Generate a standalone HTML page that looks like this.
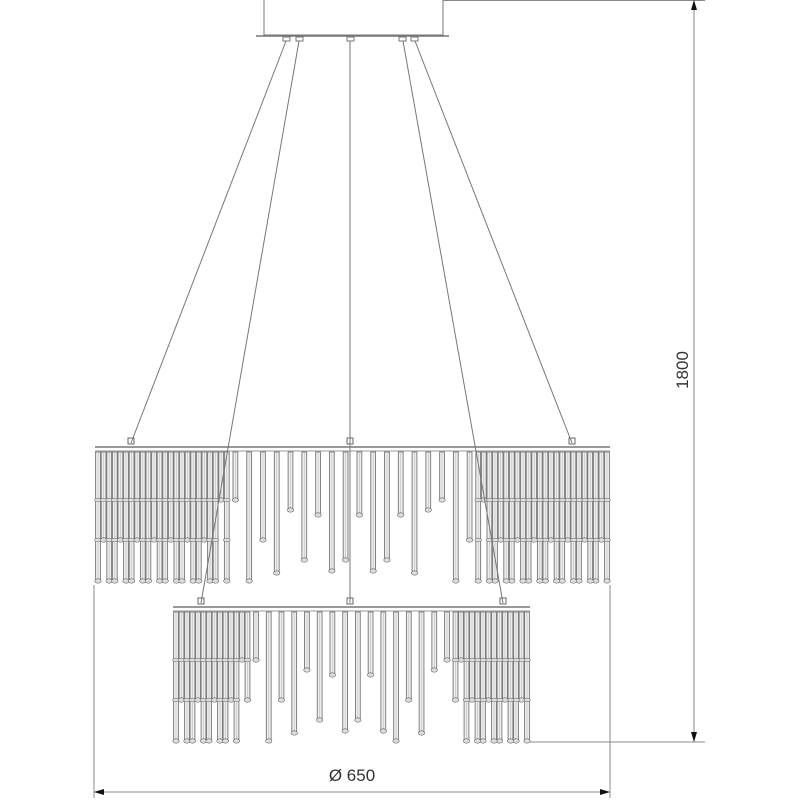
<!DOCTYPE html>
<html><head><meta charset="utf-8"><style>
html,body{margin:0;padding:0;background:#fff;}
svg{display:block;}
text{font-family:"Liberation Sans",sans-serif;fill:#333;}
</style></head><body>
<svg id="s" width="800" height="800" viewBox="0 0 800 800" xmlns="http://www.w3.org/2000/svg">
<defs>
<marker id="ah" markerWidth="10" markerHeight="6" refX="10" refY="3" orient="auto" markerUnits="userSpaceOnUse"><path d="M0,0 L10,3 L0,6 z" fill="#111"/></marker>
</defs>
<rect x="264" y="-1" width="179" height="36" fill="#fff" stroke="#777" stroke-width="1"/>
<line x1="256" y1="36" x2="449" y2="36" stroke="#777" stroke-width="1.5"/>
<g fill="#fff" stroke="#777" stroke-width="1">
<rect x="283" y="37" width="7" height="4"/><rect x="296" y="37" width="7" height="4"/><rect x="347" y="37" width="7" height="4"/><rect x="399" y="37" width="7" height="4"/><rect x="411" y="37" width="7" height="4"/>
</g>
<g id="rods"></g>
<g stroke="#777" stroke-width="1">
<line x1="286" y1="41" x2="131" y2="443"/>
<line x1="299" y1="41" x2="201" y2="603"/>
<line x1="350" y1="41" x2="350" y2="603"/>
<line x1="403" y1="41" x2="503" y2="603"/>
<line x1="415" y1="41" x2="572" y2="443"/>
</g>
<g stroke="#888" stroke-width="1">
<line x1="443" y1="0.5" x2="705" y2="0.5"/>
<line x1="530" y1="742" x2="705" y2="742"/>
<line x1="94" y1="585" x2="94" y2="798"/>
<line x1="610" y1="585" x2="610" y2="798"/>
</g>
<line x1="694" y1="12" x2="694" y2="0" stroke="#888" marker-end="url(#ah)"/>
<line x1="694" y1="12" x2="694" y2="742" stroke="#888" marker-end="url(#ah)"/>
<line x1="300" y1="792" x2="94" y2="792" stroke="#888" marker-end="url(#ah)"/>
<line x1="300" y1="792" x2="610" y2="792" stroke="#888" marker-end="url(#ah)"/>
<text x="688" y="370" font-size="17" text-anchor="middle" transform="rotate(-90 688 370)">1800</text>
<text x="352" y="781" font-size="17" text-anchor="middle">Ø 650</text>
</svg>
<script>
(function(){
var g=document.getElementById('rods'),ns='http://www.w3.org/2000/svg';
function el(t,a){var e=document.createElementNS(ns,t);for(var k in a)e.setAttribute(k,a[k]);g.appendChild(e);return e;}
var B;
function rod(x,y0,y1){
 el('rect',{x:x-2.4,y:y0,width:4.8,height:y1-y0,fill:'#eee',stroke:'#777','stroke-width':0.9});
 el('line',{x1:x,y1:y0,x2:x,y2:y1,stroke:'#bbb','stroke-width':0.6});
 B.forEach(function(b){ if(b<y1-4) el('ellipse',{cx:x,cy:b,rx:3.4,ry:1.8,fill:'#ddd',stroke:'#777','stroke-width':0.6});});
 el('ellipse',{cx:x,cy:y1,rx:3.2,ry:2.2,fill:'#ddd',stroke:'#666','stroke-width':0.6});
}
function tier(x0,x1,top,bot,bands,dense){
 B=bands;
 el('line',{x1:x0,y1:top,x2:x1,y2:top,stroke:'#777','stroke-width':1.5});
 el('line',{x1:x0,y1:top+4,x2:x1,y2:top+4,stroke:'#999','stroke-width':1});
 var w=x1-x0;
 for(var side=0;side<2;side++){
  for(var i=0;i<dense.n;i++){
   var x= side==0? x0+3+i*dense.step : x1-3-i*dense.step;
   var len = (i%3==1)? bands[1] : bot;
   if(i>dense.n-4 && i%2==0) len=bands[0];
   rod(x,top+5,len);
  }
 }
 var inner0=x0+dense.n*dense.step+6, inner1=x1-dense.n*dense.step-6;
 var cnt=Math.round((inner1-inner0)/dense.mid);
 B=[];
 for(var j=0;j<=cnt;j++){
  var x=inner0+j*(inner1-inner0)/cnt;
  var k=j%5; var len=[bands[0],bot,bands[1],bot-8,bands[0]+10][k];
  if(Math.abs(x-(x0+x1)/2)<w*0.12) len=[bands[0]+15,bot-10,bands[1]+20][j%3];
  rod(x,top+5,len);
 }
}
tier(95,610,447,581,[500,540],{n:24,step:5.6,mid:14});
tier(173,530,607,741,[660,700],{n:14,step:5.5,mid:13});
[[131,443],[572,443],[350,443],[201,603],[503,603],[350,603]].forEach(function(p){
 el('rect',{x:p[0]-3,y:p[1]-5,width:6,height:6,fill:'#fff',stroke:'#666','stroke-width':1});
});
})();
</script>
</body></html>
